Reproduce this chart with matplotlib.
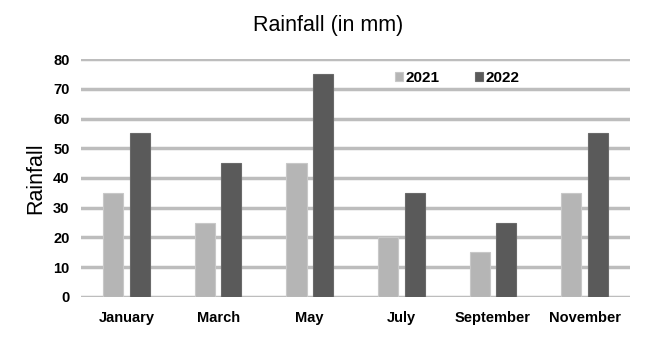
import numpy as np
import matplotlib.pyplot as plt

months = ["January", "March", "May", "July", "September", "November"]
rain_2021 = [35, 25, 45, 20, 15, 35]
rain_2022 = [55, 45, 75, 35, 25, 55]
y_ticks = [0, 10, 20, 30, 40, 50, 60, 70, 80]

plt.rcParams['font.family'] = ['Liberation Sans', 'DejaVu Sans']

fig = plt.figure(figsize=(6.56, 3.56), dpi=100)
ax = fig.add_axes([0.123, 0.166, 0.838, 0.668])

x = np.arange(len(months))
off = 0.145
w = 0.22
ax.bar(x - off, rain_2021, w, color="#b5b5b5", edgecolor="#c8c8c8", linewidth=0.8, label="2021", zorder=3)
ax.bar(x + off, rain_2022, w, color="#5a5a5a", edgecolor="#6a6a6a", linewidth=0.8, label="2022", zorder=3)

ax.set_xlim(-0.5, len(months) - 0.5)
ax.set_ylim(0, 80)
ax.set_yticks(y_ticks)
ax.set_xticks(x)
ax.set_xticklabels(months, fontweight="bold", fontsize=10.5)
for t in ax.get_yticklabels():
    t.set_fontweight("bold")
    t.set_fontsize(10.5)
ax.tick_params(axis="both", length=0)
ax.tick_params(axis="x", pad=10)
ax.tick_params(axis="y", pad=8)

for s in ax.spines.values():
    s.set_visible(False)
ax.yaxis.grid(True, color="#bdbdbd", linewidth=2.5, zorder=0)
ax.set_axisbelow(True)

ax.set_ylabel("Rainfall", fontsize=15.5, labelpad=5)
fig.suptitle("Rainfall (in mm)", fontsize=15.5, y=0.958)

leg = ax.legend(loc="center", bbox_to_anchor=(0.685, 0.92), ncol=2, frameon=False,
                handlelength=0.55, handleheight=0.55, handletextpad=0.15, columnspacing=2.3,
                prop={"weight": "bold", "size": 11})

plt.savefig("out.png", dpi=100)
